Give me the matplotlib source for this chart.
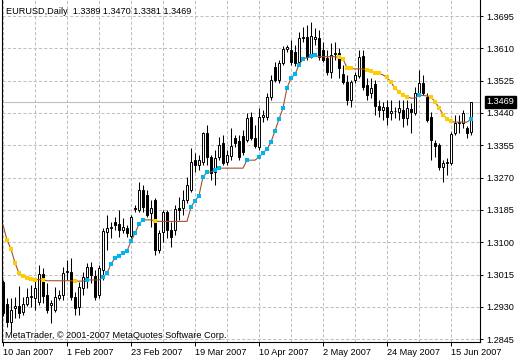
import matplotlib
matplotlib.use("Agg")
import matplotlib.pyplot as plt
import matplotlib.transforms as mtransforms
from matplotlib.patches import Rectangle
import numpy as np

# EURUSD daily bars, 10 Jan 2007 .. 21 Jun 2007 (118 bars)
opens = [
    1.2996, 1.2938, 1.2890, 1.2927, 1.2933, 1.2917, 1.2938, 1.2956, 1.2954, 1.2943,
    1.3017, 1.2961, 1.2935, 1.2922, 1.2954, 1.2961, 1.3022, 1.3022, 1.2956, 1.2930,
    1.2980, 1.3009, 1.3035, 1.3011, 1.2961, 1.3027, 1.3127, 1.3138, 1.3153, 1.3148,
    1.3132, 1.3138, 1.3117, 1.3188, 1.3185, 1.3237, 1.3224, 1.3177, 1.3211, 1.3080,
    1.3127, 1.3180, 1.3132, 1.3132, 1.3190, 1.3190, 1.3211, 1.3237, 1.3316, 1.3303,
    1.3311, 1.3387, 1.3324, 1.3285, 1.3324, 1.3361, 1.3311, 1.3327, 1.3374, 1.3366,
    1.3379, 1.3369, 1.3429, 1.3374, 1.3351, 1.3429, 1.3429, 1.3482, 1.3561, 1.3527,
    1.3571, 1.3608, 1.3606, 1.3600, 1.3574, 1.3640, 1.3640, 1.3592, 1.3635, 1.3637,
    1.3606, 1.3585, 1.3548, 1.3595, 1.3598, 1.3542, 1.3521, 1.3474, 1.3527, 1.3537,
    1.3590, 1.3513, 1.3492, 1.3516, 1.3458, 1.3448, 1.3456, 1.3440, 1.3445, 1.3443,
    1.3448, 1.3427, 1.3450, 1.3440, 1.3492, 1.3519, 1.3482, 1.3429, 1.3361, 1.3356,
    1.3298, 1.3308, 1.3308, 1.3387, 1.3414, 1.3414, 1.3400, 1.3389,
]
highs = [
    1.3001, 1.2954, 1.2954, 1.2956, 1.2985, 1.2956, 1.2980, 1.2988, 1.3001, 1.3040,
    1.3032, 1.2993, 1.2948, 1.2982, 1.2975, 1.3035, 1.3053, 1.3059, 1.2969, 1.2996,
    1.3022, 1.3046, 1.3048, 1.3027, 1.3040, 1.3138, 1.3172, 1.3153, 1.3166, 1.3185,
    1.3164, 1.3145, 1.3172, 1.3198, 1.3258, 1.3251, 1.3237, 1.3211, 1.3216, 1.3132,
    1.3185, 1.3185, 1.3153, 1.3198, 1.3219, 1.3237, 1.3272, 1.3348, 1.3335, 1.3329,
    1.3390, 1.3408, 1.3329, 1.3343, 1.3377, 1.3382, 1.3343, 1.3400, 1.3382, 1.3382,
    1.3395, 1.3440, 1.3443, 1.3408, 1.3453, 1.3448, 1.3492, 1.3540, 1.3574, 1.3579,
    1.3616, 1.3619, 1.3632, 1.3619, 1.3653, 1.3666, 1.3671, 1.3679, 1.3663, 1.3658,
    1.3627, 1.3606, 1.3624, 1.3627, 1.3611, 1.3566, 1.3540, 1.3527, 1.3548, 1.3606,
    1.3606, 1.3532, 1.3532, 1.3527, 1.3474, 1.3469, 1.3474, 1.3474, 1.3456, 1.3474,
    1.3474, 1.3474, 1.3466, 1.3508, 1.3553, 1.3540, 1.3492, 1.3443, 1.3369, 1.3361,
    1.3316, 1.3322, 1.3390, 1.3435, 1.3435, 1.3448, 1.3406, 1.3470,
]
lows = [
    1.2906, 1.2877, 1.2864, 1.2901, 1.2901, 1.2909, 1.2933, 1.2930, 1.2922, 1.2935,
    1.2940, 1.2914, 1.2888, 1.2917, 1.2948, 1.2948, 1.3001, 1.2948, 1.2909, 1.2909,
    1.2961, 1.2980, 1.2993, 1.2948, 1.2954, 1.3001, 1.3080, 1.3111, 1.3132, 1.3114,
    1.3124, 1.3114, 1.3111, 1.3180, 1.3180, 1.3180, 1.3166, 1.3140, 1.3067, 1.3072,
    1.3101, 1.3111, 1.3088, 1.3119, 1.3159, 1.3172, 1.3203, 1.3232, 1.3285, 1.3290,
    1.3303, 1.3303, 1.3264, 1.3251, 1.3316, 1.3303, 1.3303, 1.3316, 1.3351, 1.3316,
    1.3329, 1.3364, 1.3369, 1.3348, 1.3343, 1.3416, 1.3422, 1.3474, 1.3521, 1.3519,
    1.3566, 1.3600, 1.3566, 1.3564, 1.3566, 1.3627, 1.3579, 1.3585, 1.3619, 1.3579,
    1.3574, 1.3540, 1.3532, 1.3579, 1.3532, 1.3516, 1.3461, 1.3456, 1.3519, 1.3532,
    1.3500, 1.3474, 1.3479, 1.3435, 1.3429, 1.3422, 1.3408, 1.3422, 1.3427, 1.3422,
    1.3403, 1.3408, 1.3387, 1.3435, 1.3487, 1.3487, 1.3416, 1.3316, 1.3324, 1.3290,
    1.3258, 1.3277, 1.3303, 1.3382, 1.3387, 1.3400, 1.3374, 1.3381,
]
closes = [
    1.2914, 1.2890, 1.2922, 1.2933, 1.2914, 1.2938, 1.2956, 1.2959, 1.2980, 1.3017,
    1.2959, 1.2922, 1.2940, 1.2956, 1.2961, 1.3019, 1.3024, 1.2956, 1.2927, 1.2982,
    1.3009, 1.3035, 1.3014, 1.2956, 1.3032, 1.3130, 1.3138, 1.3140, 1.3145, 1.3132,
    1.3140, 1.3124, 1.3166, 1.3190, 1.3237, 1.3193, 1.3172, 1.3190, 1.3080, 1.3124,
    1.3180, 1.3132, 1.3114, 1.3188, 1.3185, 1.3211, 1.3251, 1.3311, 1.3303, 1.3316,
    1.3387, 1.3324, 1.3282, 1.3322, 1.3356, 1.3308, 1.3329, 1.3353, 1.3361, 1.3324,
    1.3337, 1.3427, 1.3374, 1.3353, 1.3429, 1.3435, 1.3482, 1.3527, 1.3527, 1.3571,
    1.3608, 1.3613, 1.3574, 1.3571, 1.3637, 1.3637, 1.3587, 1.3642, 1.3640, 1.3587,
    1.3579, 1.3548, 1.3592, 1.3598, 1.3558, 1.3521, 1.3474, 1.3521, 1.3540, 1.3587,
    1.3508, 1.3487, 1.3506, 1.3458, 1.3448, 1.3456, 1.3429, 1.3445, 1.3446, 1.3453,
    1.3427, 1.3453, 1.3443, 1.3492, 1.3519, 1.3492, 1.3422, 1.3369, 1.3353, 1.3298,
    1.3308, 1.3311, 1.3385, 1.3414, 1.3416, 1.3440, 1.3387, 1.3469,
]

# trend indicator line and its dot colours (Y = falling, B = rising, . = none)
indicator = [
    1.3146, 1.3106, 1.3082, 1.3046, 1.3019, 1.3011, 1.3006, 1.3003, 1.3002, 1.3002,
    1.3001, 1.2999, 1.2999, 1.2999, 1.2999, 1.2999, 1.2999, 1.2999, 1.2998, 1.2998,
    1.2998, 1.3001, 1.3001, 1.3001, 1.3001, 1.3009, 1.3019, 1.3043, 1.3059, 1.3064,
    1.3072, 1.3077, 1.3103, 1.3124, 1.3148, 1.3159, 1.3159, 1.3159, 1.3156, 1.3155,
    1.3155, 1.3155, 1.3155, 1.3155, 1.3155, 1.3155, 1.3155, 1.3193, 1.3209, 1.3223,
    1.3272, 1.3284, 1.3285, 1.3291, 1.3295, 1.3295, 1.3295, 1.3295, 1.3295, 1.3295,
    1.3295, 1.3316, 1.3316, 1.3316, 1.3324, 1.3335, 1.3345, 1.3364, 1.3393, 1.3424,
    1.3453, 1.3506, 1.3532, 1.3542, 1.3566, 1.3582, 1.3585, 1.3590, 1.3592, 1.3588,
    1.3588, 1.3588, 1.3588, 1.3588, 1.3586, 1.3582, 1.3559, 1.3557, 1.3556, 1.3556,
    1.3556, 1.3553, 1.3550, 1.3546, 1.3544, 1.3540, 1.3534, 1.3521, 1.3505, 1.3496,
    1.3487, 1.3483, 1.3479, 1.3479, 1.3487, 1.3486, 1.3485, 1.3482, 1.3470, 1.3454,
    1.3436, 1.3424, 1.3418, 1.3416, 1.3416, 1.3416, 1.3416, 1.3424,
]
dots = (".YYYYYYYY.Y.......Y..B...BBBBBBBBBBB..Y........BBBBB.BB......B.."
        "BBBBBBBBBBBB.BB.....YYYY...YYYY.YYYYYY..B..YYYYYY....B")

date_labels = ["10 Jan 2007", "1 Feb 2007", "23 Feb 2007", "19 Mar 2007",
               "10 Apr 2007", "2 May 2007", "24 May 2007", "15 Jun 2007"]
price_ticks = [1.2845, 1.2930, 1.3015, 1.3100, 1.3185, 1.3270,
               1.3355, 1.3440, 1.3525, 1.3610, 1.3695]

FONT = "Liberation Sans"
FS = 6.6

fig = plt.figure(figsize=(5.2, 3.6), dpi=100)
ax = fig.add_axes([2 / 520, 18 / 360, 478 / 520, 342 / 360])
n = len(closes)
x = np.arange(n)
ax.set_xlim(-0.25, 119.25)
ax.set_ylim(1.28379, 1.37371)

# dashed grid
for p in price_ticks:
    ax.axhline(p, color="#c0c0c0", lw=0.75, dashes=(3, 2), zorder=0)
date_pos = [16 * k for k in range(len(date_labels))]
for gx in range(0, 120, 8):
    ax.axvline(gx, color="#c0c0c0", lw=0.75, dashes=(3, 2), zorder=0)

# last price line
last = closes[-1]
ax.axhline(last, color="#c0c0c0", lw=0.8, zorder=0.5)

# candles
for i in range(n):
    o, h, l, c = opens[i], highs[i], lows[i], closes[i]
    ax.vlines(i, l, h, color="black", lw=0.75, zorder=2)
    up = c >= o
    ax.add_patch(Rectangle((i - 0.28, min(o, c)), 0.56, abs(c - o),
                           facecolor="white" if up else "black",
                           edgecolor="black", lw=0.7, zorder=3))

# indicator
ax.plot(x, indicator, color="#a0522d", lw=0.8, zorder=4)
ind = np.array(indicator)
ymask = np.array([d == "Y" for d in dots])
bmask = np.array([d == "B" for d in dots])
ax.plot(x[ymask], ind[ymask], "s", color="#ffcc00", ms=2.6, mew=0, zorder=5)
ax.plot(x[bmask], ind[bmask], "s", color="#00b4f0", ms=2.6, mew=0, zorder=5)

# axes styling
for s in ax.spines.values():
    s.set_color("black")
    s.set_linewidth(0.8)
ax.spines["top"].set_visible(False)
ax.yaxis.tick_right()
ax.set_yticks(price_ticks)
ax.set_yticklabels([f"{p:.4f}" for p in price_ticks], fontsize=FS, family=FONT)
ax.tick_params(axis="y", length=2.5, width=0.7, pad=2)
ax.set_xticks(date_pos)
ax.set_xticklabels(date_labels, fontsize=FS, family=FONT, ha="left")
ax.tick_params(axis="x", length=3, width=0.7, pad=1)

# last price box
trans = mtransforms.blended_transform_factory(ax.transAxes, ax.transData)
ax.text(1.0135, last, f"{last:.4f}", transform=trans, color="white",
        fontsize=FS, family=FONT, va="center", ha="left",
        bbox=dict(facecolor="black", edgecolor="black", pad=1.2), zorder=10)

fig.text(6 / 520, 1 - 11 / 360, "EURUSD,Daily  1.3389 1.3470 1.3381 1.3469",
         fontsize=FS, family=FONT, va="center", ha="left")
fig.text(5 / 520, 1 - 335 / 360, "MetaTrader, \u00a9 2001-2007 MetaQuotes Software Corp.",
         fontsize=FS, family=FONT, va="center", ha="left")

fig.savefig("out.png", dpi=100)
